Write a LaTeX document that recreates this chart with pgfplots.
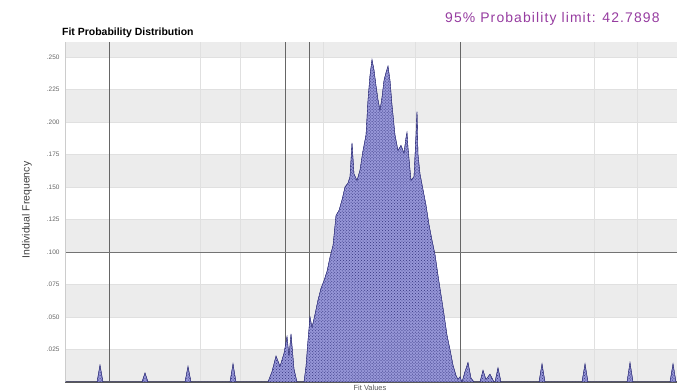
\documentclass[border=0pt]{standalone}
\usepackage{fontspec}
\setmainfont{Liberation Sans}
\usepackage{pgfplots}
\pgfplotsset{compat=1.18}
\usetikzlibrary{patterns}
\definecolor{barfill}{RGB}{150,150,215}
\definecolor{bardraw}{RGB}{50,50,125}
\definecolor{limitpurple}{RGB}{150,60,160}
\definecolor{bandgray}{RGB}{236,236,236}
\pgfplotstableread{
x y
60 0
97 0
100 0.013
103 0
142 0
145 0.007
148 0
185 0
188 0.012
191 0
230 0
233 0.014
236 0
268 0
272 0.008
276 0.020
280 0.012
284 0.022
287 0.035
289 0.020
291 0.037
294 0.010
297 0
304 0
306 0.012
308 0.032
310 0.050
312 0.042
315 0.052
318 0.063
321 0.072
324 0.078
327 0.085
330 0.096
333 0.105
336 0.128
339 0.132
342 0.140
345 0.150
348 0.153
350 0.158
352 0.184
354 0.160
357 0.155
360 0.163
363 0.178
366 0.190
368 0.217
370 0.236
372 0.248
374 0.240
376 0.228
378 0.217
380 0.209
382 0.219
384 0.232
386 0.238
388 0.243
390 0.232
392 0.213
395 0.190
398 0.178
401 0.182
404 0.176
406 0.188
407 0.192
408 0.180
411 0.155
414 0.158
416 0.190
417 0.208
418 0.175
420 0.160
423 0.148
426 0.136
429 0.121
432 0.109
435 0.098
438 0.082
441 0.067
444 0.052
447 0.036
450 0.025
453 0.013
456 0.005
458 0.002
460 0.004
462 0
465 0.008
468 0.015
471 0.003
474 0
480 0
483 0.009
486 0.002
490 0.006
494 0
495 0
498 0.011
501 0
539 0
542 0.014
545 0
582 0
585 0.014
588 0
627 0
630 0.015
633 0
670 0
673 0.014
676 0
}\dist
\begin{document}
\begin{tikzpicture}
\begin{axis}[
  set layers,
  at={(65bp,10bp)}, anchor=south west,
  width=612bp, height=340bp, scale only axis,
  xmin=65, xmax=677, ymin=0, ymax=0.2615,
  axis x line*=bottom, axis y line*=left,
  x axis line style={draw=black!65, line width=1.2pt},
  y axis line style={draw=black!20, line width=0.6pt},
  ytick={0.025,0.05,0.075,0.1,0.125,0.15,0.175,0.2,0.225,0.25},
  yticklabels={.025,.050,.075,.100,.125,.150,.175,.200,.225,.250},
  y tick label style={font=\fontsize{6.5}{7}\selectfont, text=black!60, xshift=-2bp},
  major tick length=0pt,
  ymajorgrids, major grid style={draw=black!12, line width=0.5pt},
  xtick={200,240,323,415,594,637}, xticklabels={},
  xmajorgrids,
  extra x ticks={109,285,309,460}, extra x tick labels={},
  extra x tick style={major grid style={draw=black!60, line width=0.9pt}},
  extra y ticks={0.1}, extra y tick labels={},
  extra y tick style={major grid style={draw=black!55, line width=0.9pt}},
]
\addplot[on layer=axis background, fill=bandgray, draw=none, forget plot] coordinates {(65,0) (677,0) (677,0.025) (65,0.025)} -- cycle;
\addplot[on layer=axis background, fill=bandgray, draw=none, forget plot] coordinates {(65,0.05) (677,0.05) (677,0.075) (65,0.075)} -- cycle;
\addplot[on layer=axis background, fill=bandgray, draw=none, forget plot] coordinates {(65,0.1) (677,0.1) (677,0.125) (65,0.125)} -- cycle;
\addplot[on layer=axis background, fill=bandgray, draw=none, forget plot] coordinates {(65,0.15) (677,0.15) (677,0.175) (65,0.175)} -- cycle;
\addplot[on layer=axis background, fill=bandgray, draw=none, forget plot] coordinates {(65,0.2) (677,0.2) (677,0.225) (65,0.225)} -- cycle;
\addplot[on layer=axis background, fill=bandgray, draw=none, forget plot] coordinates {(65,0.25) (677,0.25) (677,0.2615) (65,0.2615)} -- cycle;
\addplot[fill=barfill, draw=bardraw, line width=0.35pt,
  postaction={pattern=crosshatch dots, pattern color=bardraw}] table[x=x,y=y] {\dist} \closedcycle;
\end{axis}
\node[anchor=base west, font=\fontsize{10.5}{11}\selectfont\bfseries, inner sep=0pt] at (62bp,356bp) {Fit Probability Distribution};
\node[anchor=base west, font=\fontsize{14}{15}\selectfont\addfontfeature{LetterSpace=8}, text=limitpurple, inner sep=0pt] at (445bp,369bp) {95\% Probability limit: 42.7898};
\node[rotate=90, anchor=center, font=\fontsize{10.5}{11}\selectfont, text=black!75, inner sep=0pt] at (27bp,182bp) {Individual Frequency};
\node[anchor=base, font=\fontsize{7.5}{8}\selectfont, text=black!65, inner sep=0pt] at (370bp,1.5bp) {Fit Values};
\pgfresetboundingbox
\path[use as bounding box] (0bp,0bp) rectangle (677bp,392bp);
\end{tikzpicture}
\end{document}
